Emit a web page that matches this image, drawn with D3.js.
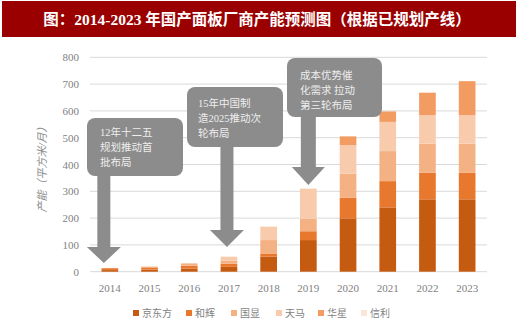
<!DOCTYPE html>
<html><head><meta charset="utf-8">
<script src="https://cdn.jsdelivr.net/npm/d3@7"></script>
<style>
html,body{margin:0;padding:0;background:#fff;}
svg{display:block;}
</style></head>
<body><svg id="c" width="520" height="327"></svg>
<script>
const years = ["2014","2015","2016","2017","2018","2019","2020","2021","2022","2023"];
const seriesNames = ["京东方","和辉","国显","天马","华星","信利"];
const boe   = [6, 8, 12, 18, 56, 118, 199, 240, 270, 270];
const hehui = [7, 8, 10, 12, 12, 33, 77, 98, 99, 99];
const guox  = [0, 3, 9, 12, 50, 47, 90, 112, 109, 109];
const tianma= [0, 0, 0, 14, 50, 112, 106, 109, 106, 106];
const huax  = [0, 0, 0, 0, 0, 0, 33, 39, 84, 127];
const xinli = [0, 0, 0, 0, 0, 0, 0, 0, 0, 0];
const colors = ["#c55a11","#e9782f","#f4b183","#f8cbad","#f39c62","#fbe5d6"];
const yTicks = [0,100,200,300,400,500,600,700,800];
const title = "图：2014-2023 年国产面板厂商产能预测图（根据已规划产线）";
const yTitle = "产能（平方米/月）";
const notes = [
  {year:"2014", lines:["12年十二五","规划推动首","批布局"]},
  {year:"2017", lines:["15年中国制","造2025推动次","轮布局"]},
  {year:"2019", lines:["成本优势催","化需求 拉动","第三轮布局"]}
];

const svg = d3.select("#c");
const serif = "'Liberation Serif','DejaVu Serif','Noto Sans CJK SC',serif";

// title bar
svg.append("rect").attr("x",2).attr("y",1).attr("width",514).attr("height",36).attr("fill","#9b0000");
svg.append("text").attr("x",257).attr("y",25).attr("text-anchor","middle")
  .attr("fill","#fff").attr("font-weight","bold").attr("font-size",15.5)
  .attr("font-family",serif).text(title);

const rows = years.map((y,i)=>({year:y, "京东方":boe[i],"和辉":hehui[i],"国显":guox[i],"天马":tianma[i],"华星":huax[i],"信利":xinli[i]}));
const stack = d3.stack().keys(seriesNames)(rows);

const x = d3.scaleBand().domain(years).range([90,487]).paddingInner(0.58).paddingOuter(0.29);
const y = d3.scaleLinear().domain([0,800]).range([271.7,57.3]);

// grid
svg.append("g").selectAll("line").data(yTicks).join("line")
  .attr("x1",90).attr("x2",487).attr("y1",d=>y(d)).attr("y2",d=>y(d))
  .attr("stroke","#d9d9d9").attr("stroke-width",1);

// y axis labels
const ya = svg.append("g").attr("transform","translate(79,0)")
  .call(d3.axisLeft(y).tickValues(yTicks).tickSize(0).tickPadding(0));
ya.select(".domain").remove();
ya.selectAll("text").attr("font-family",serif).attr("font-size",11).attr("fill","#7f7f7f");

// x axis labels
const xa = svg.append("g").attr("transform","translate(0,280)")
  .call(d3.axisBottom(x).tickSize(0).tickPadding(4));
xa.select(".domain").remove();
xa.selectAll("text").attr("font-family",serif).attr("font-size",11).attr("fill","#7f7f7f");

// bars
svg.append("g").selectAll("g").data(stack).join("g")
  .attr("fill",(d,i)=>colors[i])
  .selectAll("rect").data(d=>d).join("rect")
  .attr("x",d=>x(d.data.year)).attr("width",x.bandwidth())
  .attr("y",d=>y(d[1])).attr("height",d=>Math.max(0,y(d[0])-y(d[1])));

// y title
svg.append("text").attr("transform","translate(46,167) rotate(-90)")
  .attr("text-anchor","middle").attr("font-size",11).attr("fill","#8c8c8c")
  .attr("font-family",serif).attr("font-style","italic").text(yTitle);

// annotations
const boxGeom = {
  "2014":{bx:87, by:118, bw:96, bh:58, shaftW:13, headW:34, headTop:247, tip:263, tx:100, ty:132},
  "2017":{bx:187, by:87, bw:96, bh:60, shaftW:13, headW:34, headTop:230, tip:247, tx:198, ty:103},
  "2019":{bx:287, by:58, bw:95, bh:59, shaftW:15, headW:33, headTop:167, tip:185, tx:300, ty:75}
};
const ag = svg.append("g");
notes.forEach(n=>{
  const g = boxGeom[n.year];
  const cx = x(n.year)+x.bandwidth()/2 + (n.year==="2017"?-2:(n.year==="2014"?-6:0));
  ag.append("rect").attr("x",g.bx).attr("y",g.by).attr("width",g.bw).attr("height",g.bh)
    .attr("rx",8).attr("fill","#8c8c8c");
  const p = d3.path();
  p.moveTo(cx-g.shaftW/2, g.by+g.bh-1);
  p.lineTo(cx+g.shaftW/2, g.by+g.bh-1);
  p.lineTo(cx+g.shaftW/2, g.headTop);
  p.lineTo(cx+g.headW/2, g.headTop);
  p.lineTo(cx, g.tip);
  p.lineTo(cx-g.headW/2, g.headTop);
  p.lineTo(cx-g.shaftW/2, g.headTop);
  p.closePath();
  ag.append("path").attr("d",p.toString()).attr("fill","#8c8c8c");
  n.lines.forEach((l,i)=>{
    ag.append("text").attr("x",g.tx).attr("y",g.ty+i*15).attr("dy","0.35em")
      .attr("font-size",10.5).attr("fill","#eeeeee").attr("font-family",serif).text(l);
  });
});

// legend
const legX = [133,186,231,276,318,361];
const lg = svg.append("g");
seriesNames.forEach((s,i)=>{
  lg.append("rect").attr("x",legX[i]).attr("y",310).attr("width",6).attr("height",6).attr("fill",colors[i]);
  lg.append("text").attr("x",legX[i]+9).attr("y",313).attr("dy","0.35em")
    .attr("font-size",10).attr("fill","#7f7f7f").attr("font-family",serif).text(s);
});
</script></body></html>
